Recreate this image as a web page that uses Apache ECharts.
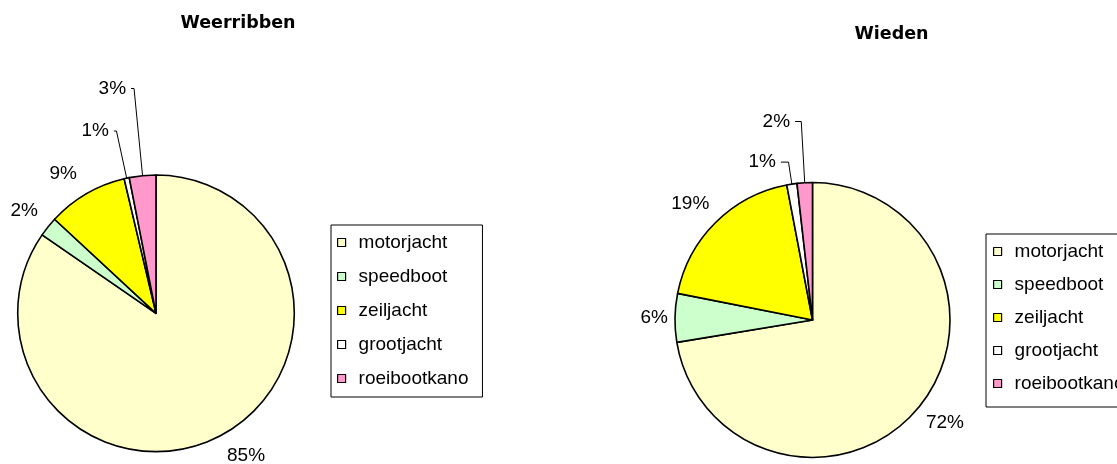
<!DOCTYPE html>
<html>
<head>
<meta charset="utf-8">
<script src="https://cdn.jsdelivr.net/npm/echarts@6/dist/echarts.min.js"></script>
<style>
  html, body { margin: 0; padding: 0; background: #fff; }
  #chart { width: 1117px; height: 464px; }
</style>
</head>
<body>
<div id="chart"></div>
<script>
// ---- data ----
const categories = ['motorjacht', 'speedboot', 'zeiljacht', 'grootjacht', 'roeibootkano'];
const weerribbenValues = [84.6, 2.3, 9.4, 0.6, 3.1];
const wiedenValues = [72.4, 5.7, 18.9, 1.2, 1.8];
const titles = ['Weerribben', 'Wieden'];

// ---- styles / label layout ----
const sliceColors = ['#FFFFCC', '#CCFFCC', '#FFFF00', '#FFFFFF', '#FF99CC'];
const weerLineLen = [23, 25.3, 22.9, 48.2, 87.6];
const weerLineLen2 = [-9, -14.6, -7.1, 2.6, 3];
const weerLineShow = [false, false, false, true, true];
const wiedLineLen = [21, 2, 26.9, 22.2, 61.3];
const wiedLineLen2 = [-12.4, 0, -17.7, 7.6, 6.2];
const wiedLineShow = [false, false, false, true, true];

const FONT = '"Liberation Sans", Arial, sans-serif';

function buildData(values, len, len2, show) {
  return categories.map((name, i) => ({
    name: name,
    value: values[i],
    itemStyle: { color: sliceColors[i] },
    labelLine: { show: show[i], length: len[i], length2: len2[i] }
  }));
}

function pieSeries(values, center, radius, len, len2, show) {
  return {
    type: 'pie',
    center: center,
    radius: radius,
    startAngle: 90,
    clockwise: true,
    avoidLabelOverlap: false,
    emphasis: { disabled: true },
    itemStyle: { borderColor: '#000', borderWidth: 1.6 },
    label: {
      show: true,
      position: 'outside',
      color: '#000',
      fontFamily: FONT,
      fontSize: 19,
      distanceToLabelLine: 5,
      formatter: p => Math.round(p.percent) + '%'
    },
    labelLine: {
      minTurnAngle: 0,
      lineStyle: { color: '#000', width: 1 }
    },
    data: buildData(values, len, len2, show)
  };
}

function legend(left, top, padding, gap) {
  return {
    orient: 'vertical',
    left: left,
    top: top,
    padding: padding,
    itemGap: gap,
    itemWidth: 8,
    itemHeight: 8,
    icon: 'rect',
    selectedMode: false,
    borderColor: '#000',
    borderWidth: 1,
    backgroundColor: '#fff',
    itemStyle: { borderColor: '#000', borderWidth: 1.2 },
    data: categories,
    formatter: name => '{n|' + name + '}',
    textStyle: {
      color: '#000',
      fontFamily: FONT,
      fontSize: 19,
      rich: {
        n: { color: '#000', fontFamily: FONT, fontSize: 19, lineHeight: 20, padding: [0, 0, 0, 8] }
      }
    }
  };
}

const chart = echarts.init(document.getElementById('chart'), null, { renderer: 'canvas' });
chart.setOption({
  animation: false,
  backgroundColor: '#fff',
  graphic: [
    { type: 'text', x: 238, y: 23, style: { text: titles[0], fill: '#000', font: 'bold 17.5px "DejaVu Sans", sans-serif', align: 'center', verticalAlign: 'middle' } },
    { type: 'text', x: 891.5, y: 34, style: { text: titles[1], fill: '#000', font: 'bold 17.5px "DejaVu Sans", sans-serif', align: 'center', verticalAlign: 'middle' } }
  ],
  legend: [
    legend(331, 225, [8, 14, 9, 6], 15),
    legend(986, 234, [8, 14, 14, 7], 14)
  ],
  series: [
    pieSeries(weerribbenValues, [156, 313.3], 138.3, weerLineLen, weerLineLen2, weerLineShow),
    pieSeries(wiedenValues, [812.5, 320], 137.5, wiedLineLen, wiedLineLen2, wiedLineShow)
  ]
});
</script>
</body>
</html>
